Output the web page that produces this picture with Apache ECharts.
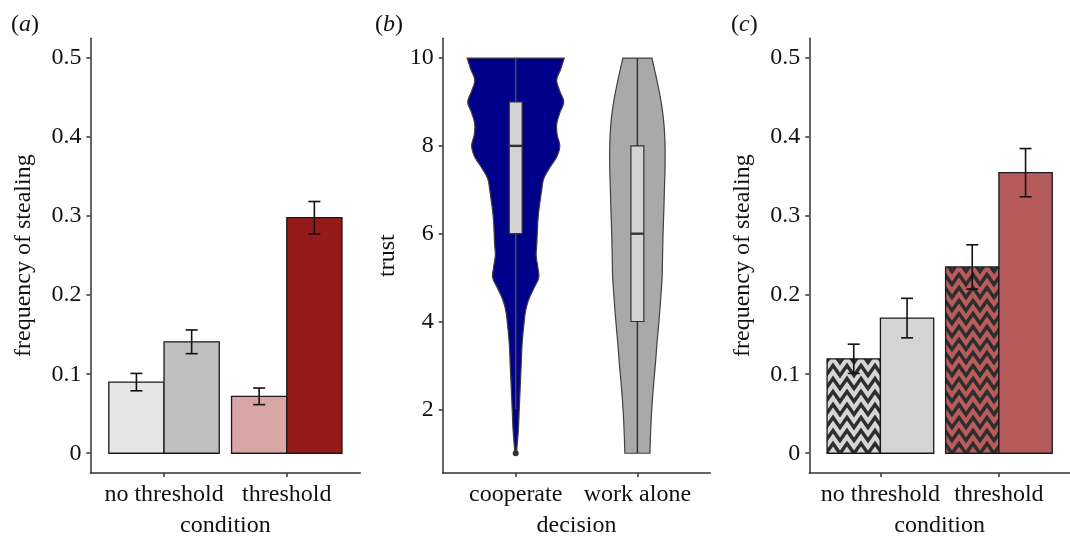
<!DOCTYPE html>
<html><head><meta charset="utf-8">
<script src="https://cdn.jsdelivr.net/npm/echarts@6/dist/echarts.min.js"></script>
<style>html,body{margin:0;padding:0;background:#fff}#c{width:1070px;height:543px}</style>
</head><body><div id="c"></div>
<script>
// ---------- data ----------
const conditions = ['no threshold', 'threshold'];
const decisions = ['cooperate', 'work alone'];
const freqTicks = [0, 0.1, 0.2, 0.3, 0.4, 0.5];
const trustTicks = [2, 4, 6, 8, 10];
const catTicks = [1, 2];

// panel (a)
const aFirst = [0.090, 0.072];
const aFirstErr = [0.011, 0.0105];
const aSecond = [0.141, 0.298];
const aSecondErr = [0.015, 0.0205];

// panel (c)
const cHatched = [0.1195, 0.2357];
const cHatchedErr = [0.0185, 0.028];
const cPlain = [0.171, 0.355];
const cPlainErr = [0.025, 0.0305];

// panel (b): violin half-widths (category units) by trust level
const coopTrust = [1, 1.5, 2, 2.5, 3, 3.5, 4, 4.25, 4.5, 4.75, 5, 5.25, 5.5, 5.75, 6, 6.25, 6.5, 6.75, 7, 7.25, 7.5, 7.75, 8, 8.25, 8.5, 8.75, 9, 9.25, 9.5, 9.75, 10];
const coopWidth = [0.006, 0.021, 0.029, 0.037, 0.045, 0.053, 0.070, 0.082, 0.107, 0.148, 0.189, 0.181, 0.168, 0.173, 0.177, 0.181, 0.189, 0.201, 0.214, 0.230, 0.279, 0.337, 0.362, 0.341, 0.337, 0.362, 0.394, 0.362, 0.337, 0.370, 0.399];
const aloneTrust = [1, 1.5, 2, 2.5, 3, 3.5, 4, 4.5, 5, 5.5, 6, 6.5, 7, 7.5, 8, 8.5, 9, 9.5, 10];
const aloneWidth = [0.103, 0.109, 0.118, 0.131, 0.147, 0.161, 0.177, 0.191, 0.203, 0.207, 0.211, 0.217, 0.222, 0.227, 0.227, 0.218, 0.195, 0.160, 0.119];
// box stats: [lower whisker, q1, median, q3, upper whisker]
const coopBox = [2, 6, 8, 9, 10];
const aloneBox = [1, 4, 6, 8, 10];
const coopOutliers = [1];

// ---------- styles ----------
const FONT = 'Liberation Serif';
const AX = '#333';
function zigzag(bg) {
  const W = 14, H = 13, amp = 10;
  const cv = document.createElement('canvas');
  cv.width = W; cv.height = H;
  const g = cv.getContext('2d');
  g.fillStyle = bg; g.fillRect(0, 0, W, H);
  g.strokeStyle = '#2e2e2e'; g.lineWidth = 3.4; g.lineJoin = 'miter';
  for (let k = -1; k <= 1; k++) {
    const y0 = (H - amp) / 2 + k * H;
    g.beginPath();
    g.moveTo(-7, y0);
    g.lineTo(0, y0 + amp);
    g.lineTo(7, y0);
    g.lineTo(14, y0 + amp);
    g.lineTo(21, y0);
    g.stroke();
  }
  return { image: cv, repeat: 'repeat' };
}

const grids = [
  { left: 90.4, top: 38.3, width: 270, height: 442.4 },
  { left: 442.7, top: 38.3, width: 267.7, height: 442.4 },
  { left: 809.3, top: 38.3, width: 270, height: 442.4 }
];

function xAxis(idx, names, title) {
  return {
    gridIndex: idx, type: 'value', min: 0.4, max: 2.6,
    axisLine: { onZero: false, lineStyle: { color: AX, width: 1.5 } },
    axisTick: { customValues: catTicks, length: 4, lineStyle: { color: AX, width: 1.5 } },
    axisLabel: { customValues: catTicks, formatter: v => names[Math.round(v) - 1], margin: 10,
      color: '#111', fontFamily: FONT, fontSize: 24 },
    splitLine: { show: false },
    name: title, nameLocation: 'middle', nameGap: 41,
    nameTextStyle: { color: '#111', fontFamily: FONT, fontSize: 24 }
  };
}
function yAxis(idx, min, max, ticks, fmt, title, gap) {
  return {
    gridIndex: idx, type: 'value', min, max,
    axisLine: { onZero: false, lineStyle: { color: AX, width: 1.5 } },
    axisTick: { customValues: ticks, length: 4, lineStyle: { color: AX, width: 1.5 } },
    axisLabel: { customValues: ticks, formatter: fmt, margin: 9, color: '#111', fontFamily: FONT, fontSize: 24 },
    splitLine: { show: false },
    name: title, nameLocation: 'middle', nameGap: gap,
    nameTextStyle: { color: '#111', fontFamily: FONT, fontSize: 24 }
  };
}
const freqFmt = v => (v === 0 ? '0' : v.toFixed(1));

const HALF = 0.225;
function barSeries(idx, values, offset, fills, z) {
  return {
    type: 'custom', xAxisIndex: idx, yAxisIndex: idx, z,
    data: values.map((v, i) => [i + 1, v]),
    renderItem(params, api) {
      const c = api.value(0), v = api.value(1);
      const p0 = api.coord([c + offset - HALF, v]);
      const p1 = api.coord([c + offset + HALF, 0]);
      return { type: 'rect', shape: { x: p0[0], y: p0[1], width: p1[0] - p0[0], height: p1[1] - p0[1] },
        style: { fill: fills[params.dataIndex], stroke: '#1a1a1a', lineWidth: 1.3 } };
    }
  };
}
function errSeries(idx, values, errs, offset) {
  return {
    type: 'custom', xAxisIndex: idx, yAxisIndex: idx, z: 10,
    data: values.map((v, i) => [i + 1, v, errs[i]]),
    renderItem(params, api) {
      const c = api.value(0) + offset, v = api.value(1), e = api.value(2);
      const top = api.coord([c, v + e]), bot = api.coord([c, v - e]);
      const cap = 6;
      const st = { stroke: '#111', lineWidth: 1.6 };
      return { type: 'group', children: [
        { type: 'line', shape: { x1: top[0], y1: top[1], x2: bot[0], y2: bot[1] }, style: st },
        { type: 'line', shape: { x1: top[0] - cap, y1: top[1], x2: top[0] + cap, y2: top[1] }, style: st },
        { type: 'line', shape: { x1: bot[0] - cap, y1: bot[1], x2: bot[0] + cap, y2: bot[1] }, style: st }
      ] };
    }
  };
}

// Catmull-Rom curve through the pixel points of one violin side
function curveThrough(pts, n) {
  const out = [];
  for (let i = 0; i < pts.length - 1; i++) {
    const p0 = pts[Math.max(i - 1, 0)], p1 = pts[i], p2 = pts[i + 1], p3 = pts[Math.min(i + 2, pts.length - 1)];
    for (let s = 0; s < n; s++) {
      const t = s / n, t2 = t * t, t3 = t2 * t;
      const f = k => 0.5 * (2 * p1[k] + (-p0[k] + p2[k]) * t + (2 * p0[k] - 5 * p1[k] + 4 * p2[k] - p3[k]) * t2 + (-p0[k] + 3 * p1[k] - 3 * p2[k] + p3[k]) * t3);
      out.push([f(0), f(1)]);
    }
  }
  out.push(pts[pts.length - 1]);
  return out;
}

const violins = [
  { t: coopTrust, w: coopWidth, box: coopBox, out: coopOutliers, fill: '#00008b', whisker: '#4a4a4a' },
  { t: aloneTrust, w: aloneWidth, box: aloneBox, out: [], fill: '#a9a9a9', whisker: '#333' }
];
const violinSeries = {
  type: 'custom', xAxisIndex: 1, yAxisIndex: 1,
  data: [[1], [2]],
  renderItem(params, api) {
    const vd = violins[params.dataIndex];
    const c = api.value(0);
    const right = vd.t.map((t, i) => api.coord([c + vd.w[i], t]));
    const left = vd.t.map((t, i) => api.coord([c - vd.w[i], t]));
    const pts = curveThrough(right, 8).concat(curveThrough(left, 8).reverse());
    const b = vd.box, bw = 0.053;
    const lo = api.coord([c, b[0]]), q1 = api.coord([c, b[1]]), md = api.coord([c, b[2]]), q3 = api.coord([c, b[3]]), hi = api.coord([c, b[4]]);
    const bl = api.coord([c - bw, b[3]]), br = api.coord([c + bw, b[1]]);
    const ln = { stroke: vd.whisker, lineWidth: 1.5 };
    const children = [
      { type: 'polygon', shape: { points: pts }, style: { fill: vd.fill, stroke: '#404040', lineWidth: 1.2 } },
      { type: 'line', shape: { x1: lo[0], y1: lo[1], x2: q1[0], y2: q1[1] }, style: ln },
      { type: 'line', shape: { x1: q3[0], y1: q3[1], x2: hi[0], y2: hi[1] }, style: ln },
      { type: 'rect', shape: { x: bl[0], y: bl[1], width: br[0] - bl[0], height: br[1] - bl[1] }, style: { fill: '#d3d3d3', stroke: '#333', lineWidth: 1.2 } },
      { type: 'line', shape: { x1: bl[0], y1: md[1], x2: br[0], y2: md[1] }, style: { stroke: '#333', lineWidth: 2.4 } }
    ];
    vd.out.forEach(o => { const p = api.coord([c, o]); children.push({ type: 'circle', shape: { cx: p[0], cy: p[1], r: 3 }, style: { fill: '#333' } }); });
    return { type: 'group', children };
  }
};

function panelLabel(x, letter) {
  return { type: 'text', left: x, top: 13, style: {
    text: '{p|(}{i|' + letter + '}{p|)}',
    rich: { p: { fontFamily: FONT, fontSize: 24, fill: '#111' }, i: { fontFamily: FONT, fontSize: 24, fontStyle: 'italic', fill: '#111' } }
  } };
}

const chart = echarts.init(document.getElementById('c'), null, { renderer: 'canvas' });
chart.setOption({
  animation: false,
  backgroundColor: '#fff',
  grid: grids,
  xAxis: [xAxis(0, conditions, 'condition'), xAxis(1, decisions, 'decision'), xAxis(2, conditions, 'condition')],
  yAxis: [
    yAxis(0, -0.025, 0.525, freqTicks, freqFmt, 'frequency of stealing', 55),
    yAxis(1, 0.55, 10.45, trustTicks, v => String(v), 'trust', 43),
    yAxis(2, -0.025, 0.525, freqTicks, freqFmt, 'frequency of stealing', 55)
  ],
  graphic: [panelLabel(11, 'a'), panelLabel(375, 'b'), panelLabel(731, 'c')],
  series: [
    barSeries(0, aFirst, -HALF, ['#e6e6e6', '#d9a5a5'], 2),
    barSeries(0, aSecond, HALF, ['#bfbfbf', '#961a1a'], 2),
    errSeries(0, aFirst, aFirstErr, -HALF),
    errSeries(0, aSecond, aSecondErr, HALF),
    violinSeries,
    barSeries(2, cHatched, -HALF, [zigzag('#d6d6d6'), zigzag('#b85c5c')], 2),
    barSeries(2, cPlain, HALF, ['#d4d4d4', '#b65b5b'], 2),
    errSeries(2, cHatched, cHatchedErr, -HALF),
    errSeries(2, cPlain, cPlainErr, HALF)
  ]
});
</script></body></html>
